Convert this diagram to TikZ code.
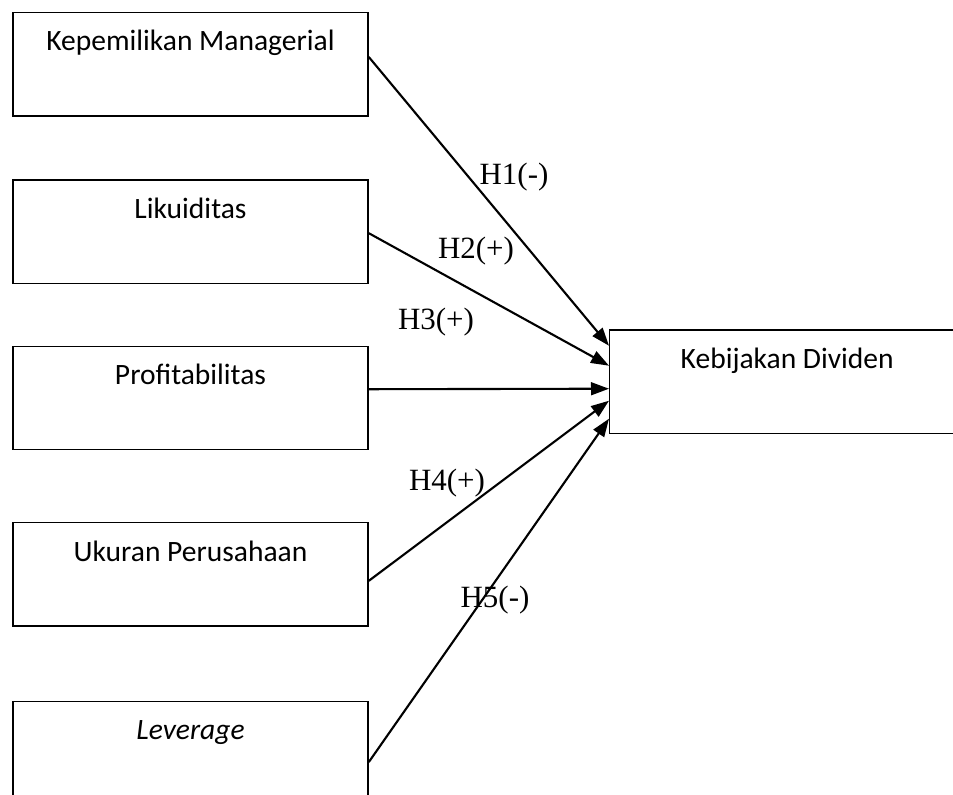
\documentclass[tikz,border=0pt]{standalone}
\usepackage{fontspec}
\setmainfont{Carlito}
\newfontfamily\hypfont{Liberation Serif}
\usetikzlibrary{arrows.meta, positioning}
\tikzset{
  varbox/.style={
	draw, line width=1pt, % thin frame of each variable
	inner sep=0pt, minimum width=8.875cm,
	text height=0.96cm, text depth=1.625cm, % puts the text near the top
	font=\fontsize{21}{24}\selectfont,
  },
  hyparrow/.style={
	-{Triangle[length=0.45cm,width=0.32cm]}, % filled arrow heads
	line width=1.5pt,
  },
  hyplabel/.style={font=\hypfont\fontsize{22}{26}\selectfont, inner sep=0pt},
}

\begin{document}
\begin{tikzpicture}[x=0.025cm, y=-0.025cm]
\useasboundingbox (0,0) rectangle (953,795);
\clip (0,0) rectangle (953,795);

\node[varbox, anchor=north] at (190.5,11.7) (k) {Kepemilikan Managerial};
\node[varbox, below=1.565cm of k] (l) {Likuiditas};
\node[varbox, below=1.54cm of l] (p) {Profitabilitas};
\node[varbox, below=1.79cm of p] (u) {Ukuran Perusahaan};
\node[varbox, below=1.84cm of u] (lev) {\textit{Leverage}};
\node[varbox, anchor=north west] at (609,329.3) (kd) {Kebijakan Dividen};

\draw[hyparrow] ([yshift=0.18cm]k.east) -- ([yshift=0.9cm]kd.west);
\draw[hyparrow] ([yshift=-0.04cm]l.east) -- ([yshift=0.4cm]kd.west);
\draw[hyparrow] ([yshift=0.22cm]p.east) -- ([yshift=-0.175cm]kd.west);
\draw[hyparrow] ([yshift=-0.16cm]u.east) -- ([yshift=-0.475cm]kd.west);
\draw[hyparrow] ([yshift=-0.23cm]lev.east) -- ([yshift=-0.925cm]kd.west);

\node[hyplabel] at (514,177) (h1) {H1(-)};
\node[hyplabel] at (476,251) (h2) {H2(+)};
\node[hyplabel] at (436,322) (h3) {H3(+)};
\node[hyplabel] at (447,483) (h4) {H4(+)};
\node[hyplabel] at (495,600) (h5) {H5(-)};
\end{tikzpicture}
\end{document}
